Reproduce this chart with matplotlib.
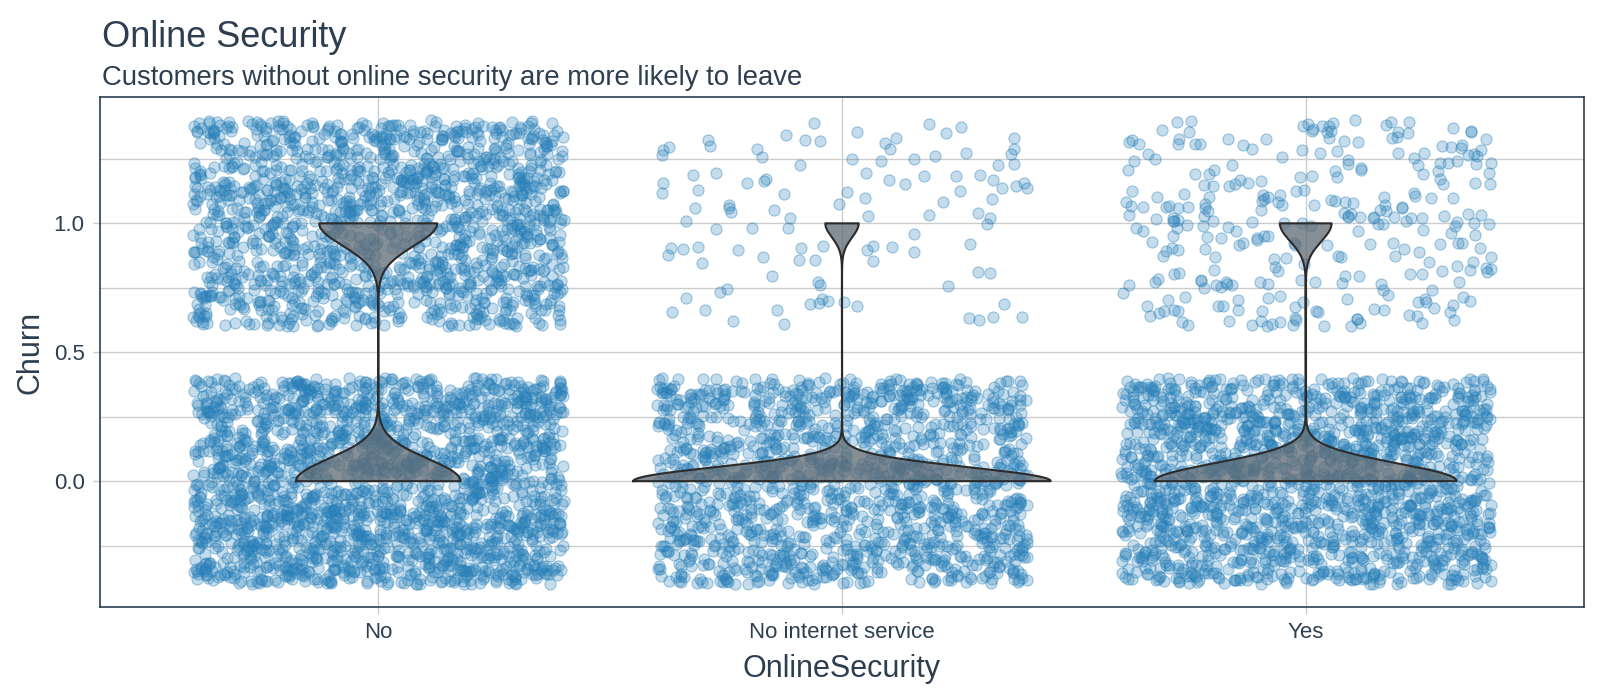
import numpy as np
import matplotlib
matplotlib.use("Agg")
import matplotlib.pyplot as plt
from matplotlib.ticker import FixedLocator

# ---- data (Telco churn, counts per OnlineSecurity level) ----
categories = ["No", "No internet service", "Yes"]
n_total = [3498, 1526, 2019]
n_churn = [1461, 113, 295]
y_ticks = [0.0, 0.5, 1.0]
y_tick_labels = ["0.0", "0.5", "1.0"]

title = "Online Security"
subtitle = "Customers without online security are more likely to leave"
xlabel = "OnlineSecurity"
ylabel = "Churn"

TXT = "#2C3E50"
PT_COL = "#2980B9"
plt.rcParams["font.family"] = ["Liberation Sans", "DejaVu Sans"]

fig = plt.figure(figsize=(16, 7), dpi=100)
ax = fig.add_axes([100/1600, 1-607/700, (1584-100)/1600, (607-97)/700])

# geom_jitter-like display offsets (uniform, width 0.4, height 0.4)
rng = np.random.default_rng(7)
for i, (nt, nc) in enumerate(zip(n_total, n_churn)):
    yv = np.concatenate([np.zeros(nt - nc), np.ones(nc)])
    xj = i + 1 + rng.uniform(-0.4, 0.4, nt)
    yj = yv + rng.uniform(-0.4, 0.4, nt)
    ax.scatter(xj, yj, s=64, facecolor=matplotlib.colors.to_rgba(PT_COL, 0.27),
               edgecolor=matplotlib.colors.to_rgba(PT_COL, 0.42), linewidth=0.8, zorder=2)

# violins: gaussian KDE with R's bw.nrd0, trimmed to [0,1], scale="area", width 0.9
grid = np.linspace(0, 1, 512)
dens = []
for nt, nc in zip(n_total, n_churn):
    yv = np.concatenate([np.zeros(nt - nc), np.ones(nc)])
    sd = yv.std(ddof=1)
    iqr = np.subtract(*np.percentile(yv, [75, 25]))
    lo = min(sd, iqr / 1.34)
    if lo == 0:
        lo = sd
    bw = 0.9 * lo * nt ** (-0.2)
    phi = lambda z: np.exp(-0.5 * z * z) / np.sqrt(2 * np.pi)
    d = ((nt - nc) * phi(grid / bw) + nc * phi((grid - 1) / bw)) / (nt * bw)
    dens.append(d)
dmax = max(d.max() for d in dens)
for i, d in enumerate(dens):
    hw = d / dmax * 0.9 / 2
    xs = np.concatenate([i + 1 - hw, (i + 1 + hw)[::-1]])
    ys = np.concatenate([grid, grid[::-1]])
    ax.fill(xs, ys, facecolor="#5F6A73", alpha=0.75, edgecolor="none", zorder=3)
    ax.plot(np.append(xs, xs[0]), np.append(ys, ys[0]), color="#2B2B2B", lw=1.5, zorder=4)

ax.set_xlim(0.4, 3.6)
ax.set_ylim(-0.488, 1.49)
ax.set_xticks([1, 2, 3])
ax.set_xticklabels(categories)
ax.yaxis.set_major_locator(FixedLocator(y_ticks))
ax.set_yticklabels(y_tick_labels)
ax.yaxis.set_minor_locator(FixedLocator([-0.25, 0.25, 0.75, 1.25]))

ax.grid(True, which="major", color="#CCCCCC", lw=1.0, zorder=0)
ax.grid(True, which="minor", axis="y", color="#CCCCCC", lw=1.0, zorder=0)
ax.set_axisbelow(True)
ax.tick_params(which="major", length=5, width=1, color="#CCCCCC", labelsize=16,
               labelcolor=TXT, pad=6)
ax.tick_params(which="minor", length=0)
for s in ax.spines.values():
    s.set_color(TXT)
    s.set_linewidth(1.2)

ax.set_xlabel(xlabel, fontsize=22, color=TXT, labelpad=8)
ax.set_ylabel(ylabel, fontsize=22, color=TXT)
ax.yaxis.set_label_coords((46 - 100) / 1484, 0.5)

fig.text(102/1600, 1-47/700, title, fontsize=26, color=TXT, va="baseline", ha="left")
fig.text(102/1600, 1-85/700, subtitle, fontsize=19.8, color=TXT, va="baseline", ha="left")

fig.savefig("out.png", dpi=100, facecolor="white")
